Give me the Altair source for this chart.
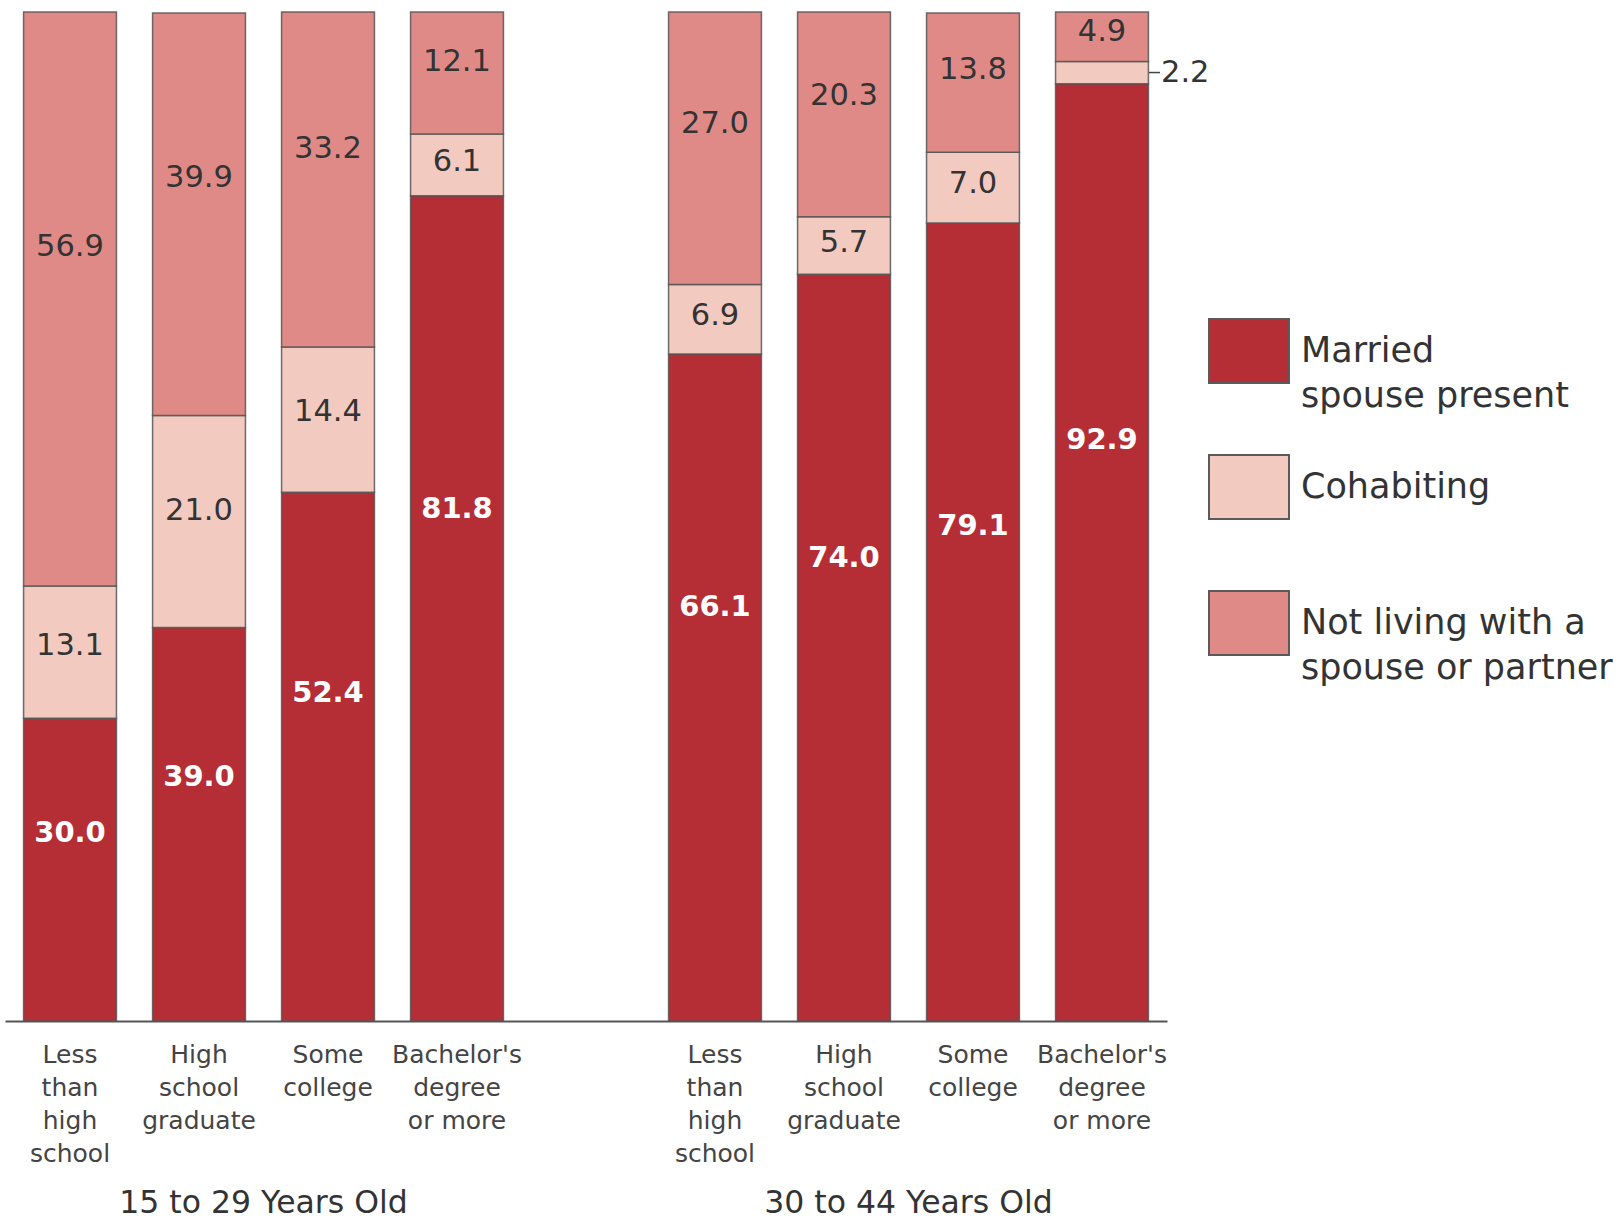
import altair as alt
import pandas as pd

# Living arrangements by education, two age groups (percent)
AGE_GROUPS = ["15 to 29 Years Old", "30 to 44 Years Old"]
EDUCATION = [
    "Less\nthan\nhigh\nschool",
    "High\nschool\ngraduate",
    "Some\ncollege",
    "Bachelor's\ndegree\nor more",
]
STATUSES = [
    "Married\nspouse present",
    "Cohabiting\n",
    "Not living with a\nspouse or partner",
]
MARRIED = [[30.0, 39.0, 52.4, 81.8], [66.1, 74.0, 79.1, 92.9]]
COHABITING = [[13.1, 21.0, 14.4, 6.1], [6.9, 5.7, 7.0, 2.2]]
NOT_LIVING = [[56.9, 39.9, 33.2, 12.1], [27.0, 20.3, 13.8, 4.9]]
COLORS = ["#B52D35", "#F2CAC0", "#E08A87"]

rows = []
for g, age in enumerate(AGE_GROUPS):
    for e, edu in enumerate(EDUCATION):
        slot = f"{age}: {edu}"
        for s, (status, series) in enumerate(zip(STATUSES, [MARRIED, COHABITING, NOT_LIVING])):
            rows.append({"age": age, "slot": slot, "status": status,
                         "order": s, "value": series[g][e]})
df = pd.DataFrame(rows)

# slot domain with an empty spacer between the two age groups
slots = [f"{AGE_GROUPS[0]}: {e}" for e in EDUCATION] + ["spacer: "] + \
        [f"{AGE_GROUPS[1]}: {e}" for e in EDUCATION]

x = alt.X(
    "slot:N",
    scale=alt.Scale(domain=slots, paddingInner=0.28, paddingOuter=0.144),
    sort=slots,
    axis=alt.Axis(
        title=None, ticks=False, labelAngle=0, domainColor="#555555", domainWidth=2,
        labelExpr="split(split(datum.label, ': ')[1], '\\n')",
        labelFont="DejaVu Sans", labelFontSize=25, labelColor="#444444",
        labelLineHeight=33, labelPadding=21, labelBaseline="top",
    ),
)
y = alt.Y("value:Q", stack="zero", scale=alt.Scale(domain=[0, 100]), axis=None)
yscale = alt.Scale(domain=[0, 100])

legend_shape = "M-1,-0.8H1V0.8H-1Z"

bars = alt.Chart(df).mark_bar(
    stroke="#555555", strokeWidth=1.5, strokeOpacity=0.85
).encode(
    x=x,
    y=y,
    color=alt.Color(
        "status:N",
        scale=alt.Scale(domain=STATUSES, range=COLORS),
        legend=alt.Legend(
            title=None, orient="none", legendX=1203, legendY=298,
            symbolType=legend_shape, symbolSize=6400, symbolStrokeColor="#5a5a5a",
            symbolStrokeWidth=2, symbolOpacity=1,
            labelExpr="split(datum.label, '\\n')", labelFont="DejaVu Sans",
            labelFontSize=35, labelColor="#333333",
            labelOffset=11, labelLimit=400, rowPadding=32, padding=0,
        ),
    ),
    order=alt.Order("order:Q"),
)

# value labels sit a little above the middle of each stacked segment
base = alt.Chart(df).transform_stack(
    stack="value", groupby=["slot"], as_=["v0", "v1"], sort=[alt.SortField("order")]
).transform_calculate(
    label_pos="datum.v1 - [0.38, 0.45, 0.41][datum.order] * datum.value",
    mid="(datum.v0 + datum.v1) / 2",
    label="format(datum.value, '.1f')",
)

inside = base.transform_filter("datum.value >= 3")
married_labels = inside.transform_filter("datum.order == 0").mark_text(
    font="DejaVu Sans", fontSize=29, fontWeight="bold", color="white", baseline="middle"
).encode(x=x, y=alt.Y("label_pos:Q", scale=yscale), text="label:N")
other_labels = inside.transform_filter("datum.order > 0").mark_text(
    font="DejaVu Sans", fontSize=30.5, color="#333333", baseline="middle"
).encode(x=x, y=alt.Y("label_pos:Q", scale=yscale), text="label:N")

# segments too thin for an inside label get a leader tick and an outside label
outside = base.transform_filter("datum.value < 3")
out_text = outside.mark_text(
    font="DejaVu Sans", fontSize=30.5, color="#333333", align="left", baseline="middle", dx=59
).encode(x=x, y=alt.Y("mid:Q", scale=yscale), text="label:N")
out_tick = outside.mark_rule(color="#444444", strokeWidth=1.5, xOffset=47, x2Offset=58).encode(
    x=x, x2="slot:N", y=alt.Y("mid:Q", scale=yscale)
)

# age group captions centred under each group of four bars
groups = pd.DataFrame({"age": AGE_GROUPS,
                       "slot": [f"{a}: {EDUCATION[1]}" for a in AGE_GROUPS]})
group_text = alt.Chart(groups).mark_text(
    font="DejaVu Sans", fontSize=31.5, color="#333333", baseline="middle", dx=64.5
).encode(x=x, y=alt.value(1192), text="age:N")

chart = alt.layer(
    bars, married_labels, other_labels, out_text, out_tick, group_text
).properties(
    width=1162, height=1009,
    autosize=alt.AutoSizeParams(type="none"),
    padding={"left": 5, "top": 12, "right": 452, "bottom": 200},
).configure(
    view={"stroke": None},
    style={"guide-label": {"lineHeight": 45}},
)

chart.save("out.html", embed_options={"renderer": "svg", "actions": False})
